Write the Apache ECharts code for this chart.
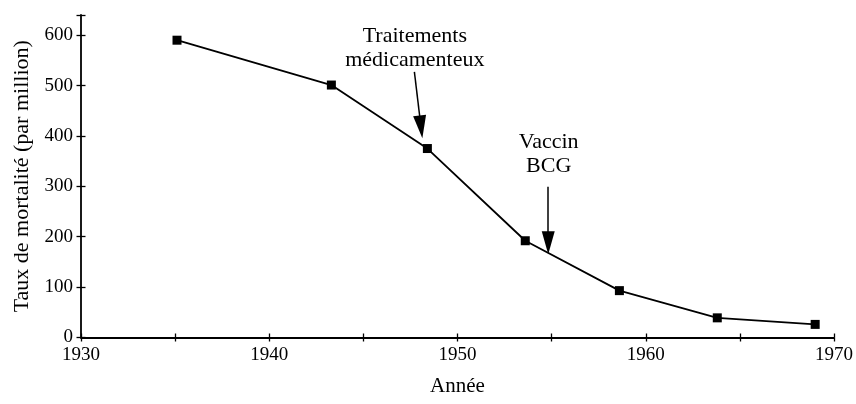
<!DOCTYPE html>
<html>
<head>
<meta charset="utf-8">
<script src="https://cdn.jsdelivr.net/npm/echarts@6/dist/echarts.min.js"></script>
<style>
  html, body { margin: 0; padding: 0; background: #fff; }
  #chart { width: 856px; height: 404px; }
</style>
</head>
<body>
<div id="chart"></div>
<script>
// data
const years = [1935.1, 1943.3, 1948.4, 1953.6, 1958.6, 1963.8, 1969.0]
const rates = [590, 501, 375, 192, 93, 39, 26]

// annotations: [startYear, startValue, headYear, headValue]
const arrowDrugs = [1947.71, 527, 1948.06, 418]
const arrowBcg = [1954.82, 299, 1954.82, 188]
const noteDrugs = [1947.76, 573, 'Traitements\nmédicamenteux']
const noteBcg = [1954.87, 362, 'Vaccin\nBCG']

const font = 'Liberation Serif, Times New Roman, serif'
const ink = '#000'

const chart = echarts.init(document.getElementById('chart'), null, { renderer: 'canvas' })

const points = years.map((y, i) => [y, rates[i]])

function arrow(a) {
  return [
    { coord: [a[0], a[1]], symbol: 'none' },
    { coord: [a[2], a[3]], symbol: 'path://M5,0 L10,20 L0,20 Z', symbolSize: [13, 23] }
  ]
}

function note(n) {
  return { value: [n[0], n[1]], name: n[2] }
}

const xBase = {
  type: 'value',
  min: 1930,
  max: 1970,
  interval: 5,
  position: 'bottom',
  splitLine: { show: false }
}
const yBase = {
  type: 'value',
  min: 0,
  max: 640,
  interval: 100,
  position: 'left',
  splitLine: { show: false }
}

chart.setOption({
  animation: false,
  backgroundColor: '#fff',
  grid: { left: 81, right: 16, top: 15, bottom: 66.5, containLabel: false },
  xAxis: [
    Object.assign({}, xBase, {
      name: 'Année',
      nameLocation: 'middle',
      nameGap: 38,
      nameTextStyle: { fontFamily: font, fontSize: 21, color: ink },
      axisLine: { lineStyle: { color: ink, width: 1.8 } },
      axisTick: { inside: false, length: 4, lineStyle: { color: ink, width: 1.3 } },
      axisLabel: {
        fontFamily: font, fontSize: 19, color: ink, margin: 8,
        formatter: v => (v % 10 === 0 ? String(v) : '')
      }
    }),
    Object.assign({}, xBase, {
      axisLine: { show: false },
      axisTick: { inside: true, length: 4, lineStyle: { color: ink, width: 1.3 } },
      axisLabel: { show: false }
    })
  ],
  yAxis: [
    Object.assign({}, yBase, {
      name: 'Taux de mortalité (par million)',
      nameLocation: 'middle',
      nameGap: 46,
      nameRotate: 90,
      nameTextStyle: { fontFamily: font, fontSize: 22, color: ink },
      axisLine: { lineStyle: { color: ink, width: 1.8 } },
      axisTick: { inside: false, length: 4.5, lineStyle: { color: ink, width: 1.3 } },
      axisLabel: {
        fontFamily: font, fontSize: 19, color: ink, margin: 8,
        formatter: v => (v % 100 === 0 ? String(v) : '')
      }
    }),
    Object.assign({}, yBase, {
      axisLine: { show: false },
      axisTick: { inside: true, length: 4.5, lineStyle: { color: ink, width: 1.3 } },
      axisLabel: { show: false }
    })
  ],
  series: [
    {
      type: 'line',
      data: points,
      symbol: 'rect',
      symbolSize: 9,
      lineStyle: { color: ink, width: 1.8 },
      itemStyle: { color: ink },
      silent: true,
      markLine: {
        silent: true,
        animation: false,
        label: { show: false },
        lineStyle: { color: ink, width: 1.5, type: 'solid' },
        itemStyle: { color: ink },
        emphasis: { disabled: true },
        data: [arrow(arrowDrugs), arrow(arrowBcg)]
      }
    },
    {
      type: 'scatter',
      data: [note(noteDrugs), note(noteBcg)],
      symbolSize: 1,
      itemStyle: { color: 'rgba(255,255,255,0)' },
      silent: true,
      label: {
        show: true,
        position: [0, 0],
        formatter: '{b}',
        fontFamily: font,
        fontSize: 22,
        lineHeight: 24,
        color: ink,
        opacity: 1,
        textBorderWidth: 0,
        align: 'center',
        verticalAlign: 'middle'
      }
    }
  ]
})
</script>
</body>
</html>
